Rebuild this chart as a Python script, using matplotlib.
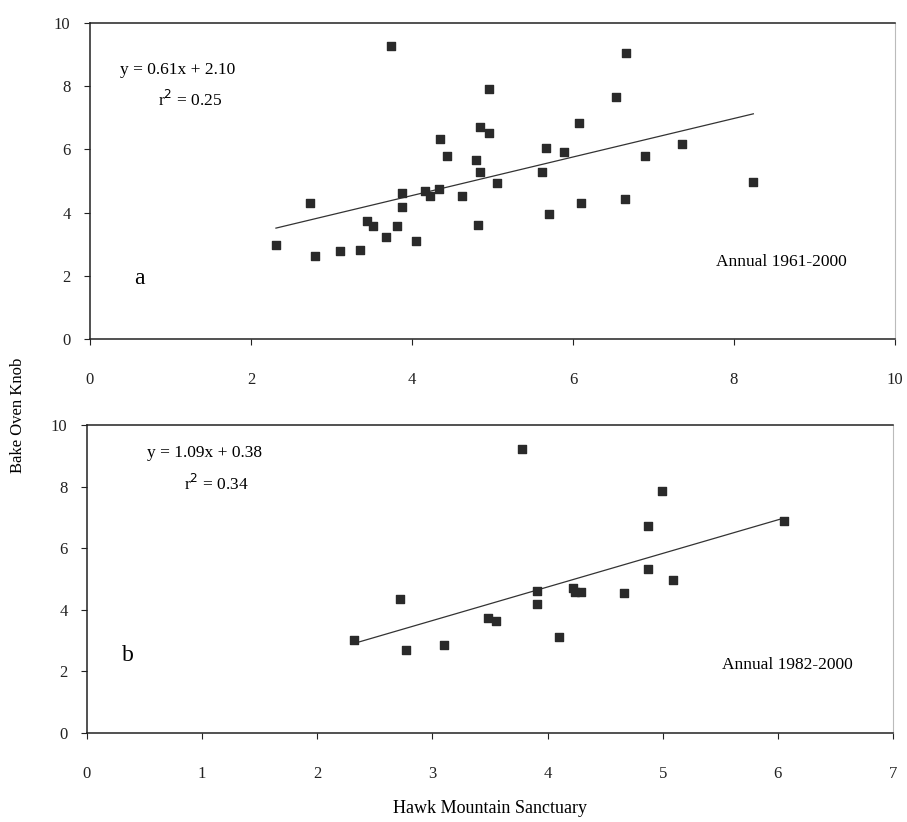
import numpy as np
import matplotlib
matplotlib.use("Agg")
import matplotlib.pyplot as plt

plt.rcParams['font.family'] = ['Liberation Serif', 'DejaVu Serif']

# Panel a: annual 1961-2000
hawk_a = [2.31, 2.73, 2.79, 3.10, 3.36, 3.44, 3.52, 3.68, 3.74, 3.81,
          3.88, 3.88, 4.05, 4.16, 4.22, 4.33, 4.35, 4.44, 4.62, 4.79,
          4.82, 4.85, 4.85, 4.96, 4.96, 5.05, 5.62, 5.66, 5.70, 5.89,
          6.07, 6.10, 6.54, 6.64, 6.66, 6.90, 7.36, 8.24]
bake_a = [2.97, 4.30, 2.63, 2.80, 2.81, 3.73, 3.59, 3.23, 9.27, 3.58,
          4.61, 4.19, 3.09, 4.67, 4.51, 4.76, 6.33, 5.79, 4.53, 5.68,
          3.61, 6.70, 5.29, 6.51, 7.90, 4.95, 5.29, 6.04, 3.97, 5.93,
          6.84, 4.31, 7.66, 4.43, 9.06, 5.79, 6.16, 4.96]
slope_a, icpt_a, r2_a = 0.61, 2.10, 0.25

# Panel b: annual 1982-2000
hawk_b = [2.32, 2.72, 2.77, 3.10, 3.48, 3.55, 3.78, 3.91, 3.91, 4.10,
          4.22, 4.24, 4.29, 4.66, 4.87, 4.87, 4.99, 5.09, 6.05]
bake_b = [3.01, 4.35, 2.68, 2.86, 3.73, 3.62, 9.22, 4.61, 4.18, 3.11,
          4.72, 4.58, 4.58, 4.54, 6.73, 5.31, 7.85, 4.97, 6.87]
slope_b, icpt_b, r2_b = 1.09, 0.38, 0.34

fig = plt.figure(figsize=(9.07, 8.22), dpi=100)
ax_a = fig.add_axes([0.0992, 0.5876, 0.8876, 0.3844])
ax_b = fig.add_axes([0.0959, 0.1083, 0.8887, 0.3747])


def style(ax, xmax):
    ax.set_xlim(0, xmax)
    ax.set_ylim(0, 10)
    ax.set_yticks([0, 2, 4, 6, 8, 10])
    ax.set_xticks(range(0, xmax + 1, 2 if xmax == 10 else 1))
    for s in ['left', 'top', 'bottom']:
        ax.spines[s].set_color('#222222')
        ax.spines[s].set_linewidth(1.1)
    ax.spines['right'].set_color('#bbbbbb')
    ax.spines['right'].set_linewidth(0.8)
    ax.tick_params(direction='out', length=4, width=0.8, labelsize=12,
                   colors='#222222')
    ax.tick_params(axis='x', pad=20)
    ax.tick_params(axis='y', pad=10)


def scatter_fit(ax, x, y, slope, icpt):
    ax.scatter(x, y, marker='s', s=36, color='#2a2a2a', zorder=3)
    xs = np.array([min(x), max(x)])
    ax.plot(xs, slope * xs + icpt, color='#333333', lw=0.9, zorder=2)


style(ax_a, 10)
scatter_fit(ax_a, hawk_a, bake_a, slope_a, icpt_a)
ax_a.text(0.37, 8.5, f"y = {slope_a:.2f}x + {icpt_a:.2f}", fontsize=12.5, va='center')
ax_a.text(0.85, 7.55, f"r$^2$ = {r2_a:.2f}", fontsize=12.5, va='center')
ax_a.text(0.55, 1.9, "a", fontsize=17, va='center')
ax_a.text(9.4, 2.45, "Annual 1961-2000", fontsize=12.5, ha='right', va='center')

style(ax_b, 7)
scatter_fit(ax_b, hawk_b, bake_b, slope_b, icpt_b)
ax_b.text(0.52, 9.1, f"y = {slope_b:.2f}x + {icpt_b:.2f}", fontsize=12.5, va='center')
ax_b.text(0.84, 8.1, f"r$^2$ = {r2_b:.2f}", fontsize=12.5, va='center')
ax_b.text(0.30, 2.5, "b", fontsize=17, va='center')
ax_b.text(6.65, 2.2, "Annual 1982-2000", fontsize=12.5, ha='right', va='center')

fig.text(0.020, 0.495, "Bake Oven Knob", rotation=90, fontsize=12,
         ha='center', va='center')
fig.text(0.54, 0.017, "Hawk Mountain Sanctuary", fontsize=13,
         ha='center', va='center')

fig.savefig("out.png", dpi=100)
